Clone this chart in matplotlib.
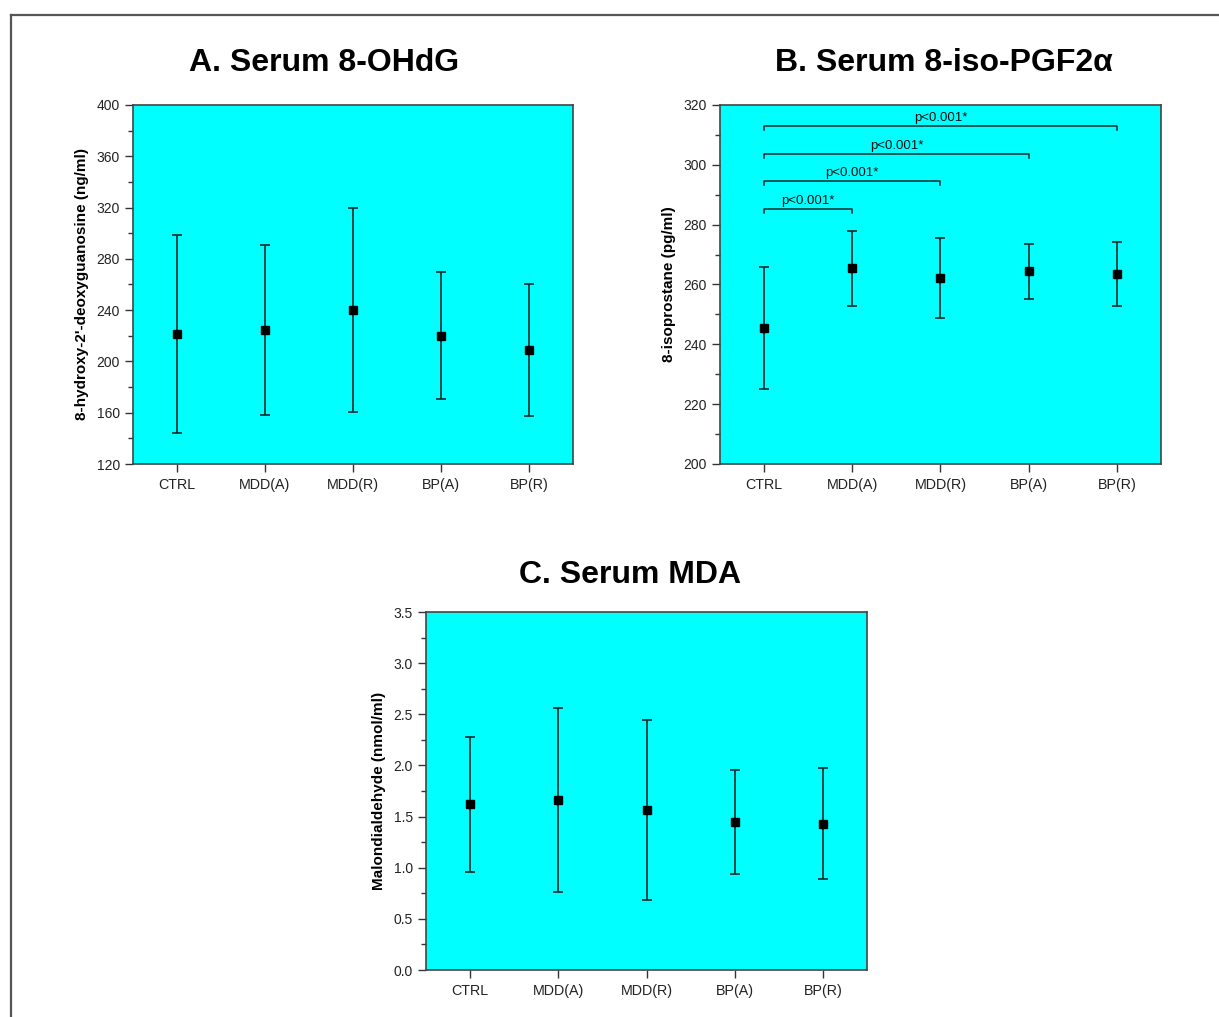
import matplotlib
matplotlib.use("Agg")
import matplotlib.pyplot as plt
from matplotlib.lines import Line2D
from matplotlib.ticker import MultipleLocator, AutoMinorLocator, FormatStrFormatter

plt.rcParams['font.family'] = ['Liberation Sans', 'DejaVu Sans']

groups = ["CTRL", "MDD(A)", "MDD(R)", "BP(A)", "BP(R)"]

# A. Serum 8-OHdG (ng/ml): mean and SD
ohdg_mean = [221.5, 224.6, 240.2, 220.2, 209.0]
ohdg_sd = [77.0, 66.5, 79.7, 49.4, 51.6]

# B. Serum 8-iso-PGF2a (pg/ml)
iso_mean = [245.4, 265.4, 262.1, 264.4, 263.5]
iso_sd = [20.3, 12.6, 13.4, 9.2, 10.7]

# significance brackets: (from group, to group, height)
brackets = [(0, 1, 285.2), (0, 2, 294.5), (0, 3, 303.7), (0, 4, 312.9)]
bracket_text = "p<0.001*"

# C. Serum MDA (nmol/ml)
mda_mean = [1.62, 1.66, 1.56, 1.445, 1.432]
mda_sd = [0.66, 0.90, 0.88, 0.51, 0.545]

fig = plt.figure(figsize=(12.19, 10.17), dpi=100)

# frame lines (top and left) as in the source figure
fig.add_artist(Line2D([11 / 1219, 1.0], [1 - 15 / 1017] * 2, color='#555555', lw=1.6))
fig.add_artist(Line2D([11 / 1219] * 2, [0.0, 1 - 15 / 1017], color='#555555', lw=1.6))


def panel(rect, mean, sd, ylim, major, ylabel):
    ax = fig.add_axes(rect)
    ax.set_facecolor('#00FFFF')
    x = list(range(1, len(groups) + 1))
    ax.errorbar(x, mean, yerr=sd, fmt='s', color='black', ecolor='#0d2b2b',
                markersize=6, elinewidth=1.2, capsize=3.5, capthick=1.2)
    ax.set_xlim(0.5, len(groups) + 0.5)
    ax.set_ylim(*ylim)
    ax.set_xticks(x)
    ax.set_xticklabels(groups, fontsize=10.3, color='#222222')
    ax.yaxis.set_major_locator(MultipleLocator(major))
    ax.yaxis.set_minor_locator(AutoMinorLocator(2))
    ax.tick_params(axis='y', which='major', direction='out', length=6, width=1,
                   labelsize=10, colors='#333333', labelcolor='#222222')
    ax.tick_params(axis='y', which='minor', direction='out', length=3.5, width=1,
                   colors='#333333')
    ax.tick_params(axis='x', direction='out', length=6, width=1, colors='#333333',
                   labelcolor='#222222', pad=4)
    ax.set_ylabel(ylabel, fontsize=11, fontweight='bold', labelpad=5)
    for s in ax.spines.values():
        s.set_color('#444444')
        s.set_linewidth(1.2)
    return ax


ax_a = panel([133 / 1219, 1 - 464 / 1017, 440 / 1219, 359 / 1017],
             ohdg_mean, ohdg_sd, (120, 400), 40,
             "8-hydroxy-2'-deoxyguanosine (ng/ml)")
ax_b = panel([720 / 1219, 1 - 464 / 1017, 441 / 1219, 359 / 1017],
             iso_mean, iso_sd, (200, 320), 20,
             "8-isoprostane (pg/ml)")
ax_c = panel([426 / 1219, 1 - 970 / 1017, 441 / 1219, 358 / 1017],
             mda_mean, mda_sd, (0.0, 3.5), 0.5,
             "Malondialdehyde (nmol/ml)")
ax_c.yaxis.set_major_formatter(FormatStrFormatter('%.1f'))

for i, j, h in brackets:
    xi, xj = i + 1, j + 1
    ax_b.plot([xi, xi, xj, xj], [h - 1.3, h, h, h - 1.3], color='#0d2b2b', lw=1.1)
    ax_b.text((xi + xj) / 2, h + 0.6, bracket_text, ha='center', va='bottom',
              fontsize=9.5, color='#111111')

fig.text(324 / 1219, 1 - 63 / 1017, "A. Serum 8-OHdG", fontsize=23,
         fontweight='bold', ha='center', va='center')
fig.text(944 / 1219, 1 - 63 / 1017, "B. Serum 8-iso-PGF2α", fontsize=23,
         fontweight='bold', ha='center', va='center')
fig.text(630 / 1219, 1 - 575 / 1017, "C. Serum MDA", fontsize=23,
         fontweight='bold', ha='center', va='center')

fig.savefig("out.png", dpi=100)
